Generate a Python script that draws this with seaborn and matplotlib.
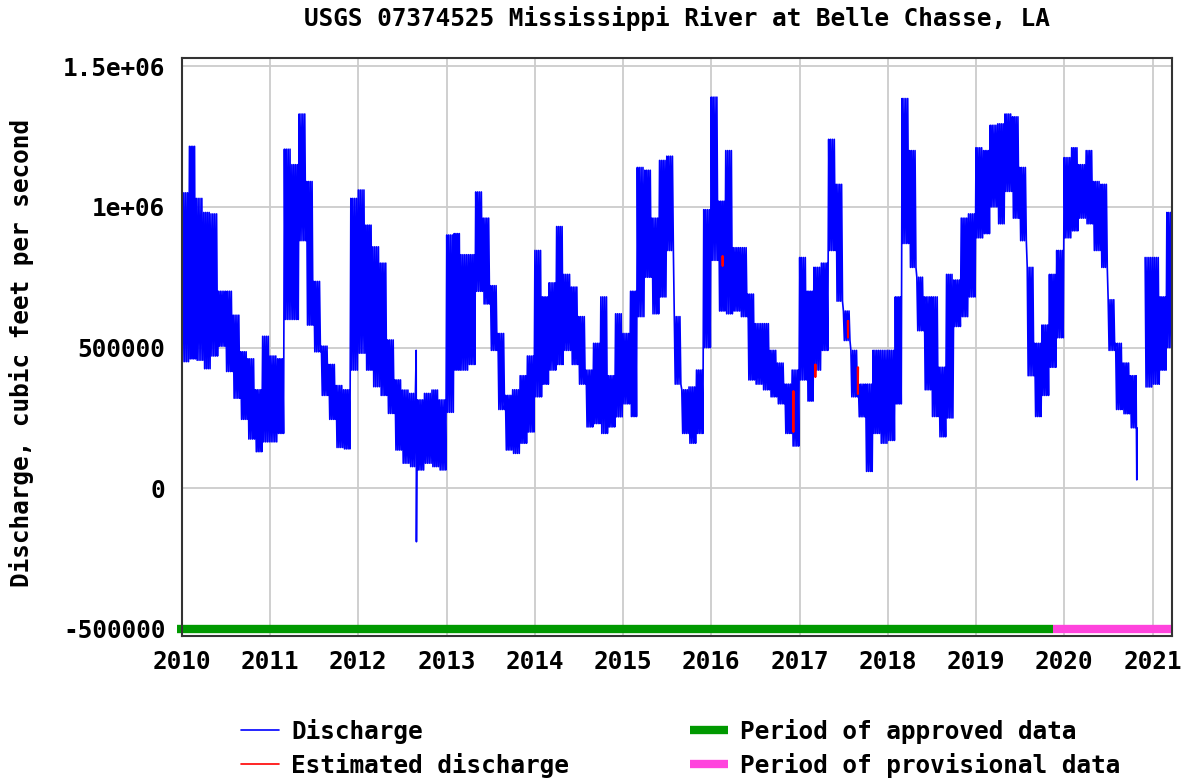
import numpy as np
import pandas as pd
import matplotlib.pyplot as plt
import matplotlib.dates as mdates
from matplotlib.lines import Line2D
import seaborn as sns

sns.set_theme(style='white')
plt.rcParams['font.family'] = ['DejaVu Sans Mono']
plt.rcParams['font.weight'] = 'bold'
plt.rcParams['text.color'] = 'black'
plt.rcParams['axes.labelcolor'] = 'black'

# monthly upper / lower envelope of the discharge trace, thousands of cfs
months = pd.date_range('2010-01-01', '2021-03-01', freq='MS')
q_high = [
    1050, 1215, 1030, 980, 975, 700, 700, 615, 485, 460, 350, 540,      # 2010
    470, 460, 1205, 1150, 1330, 1090, 735, 505, 440, 365, 350, 1030,    # 2011
    1060, 935, 858, 800, 527, 385, 349, 337, 314, 337, 349, 314,        # 2012
    900, 905, 830, 830, 1053, 960, 720, 550, 330, 350, 400, 470,        # 2013
    845, 680, 730, 930, 760, 715, 610, 420, 515, 680, 400, 620,         # 2014
    550, 700, 1140, 1130, 960, 1165, 1180, 610, 350, 360, 420, 990,     # 2015
    1390, 1020, 1200, 855, 855, 690, 585, 585, 490, 445, 370, 420,      # 2016
    820, 700, 785, 800, 1240, 1080, 630, 490, 370, 370, 490, 490,       # 2017
    490, 680, 1385, 1200, 750, 680, 680, 430, 760, 740, 960, 975,       # 2018
    1210, 1200, 1290, 1295, 1330, 1320, 1140, 785, 515, 580, 760, 845,  # 2019
    1175, 1210, 1150, 1200, 1090, 1080, 670, 515, 445, 400, np.nan, 820,  # 2020
    820, 680, 980,                                                      # 2021
]
q_low = [
    450, 460, 455, 425, 470, 505, 415, 320, 245, 175, 130, 165,
    165, 195, 600, 600, 880, 580, 485, 330, 245, 145, 140, 420,
    480, 420, 361, 330, 266, 136, 89, 77, 65, 89, 77, 65,
    270, 420, 420, 440, 700, 655, 490, 280, 136, 124, 160, 200,
    325, 370, 420, 440, 490, 440, 370, 218, 230, 195, 218, 254,
    300, 255, 610, 750, 620, 680, 845, 370, 195, 160, 195, 500,
    810, 630, 620, 630, 610, 385, 370, 350, 325, 300, 195, 150,
    385, 310, 420, 490, 845, 665, 525, 325, 254, 60, 195, 160,
    170, 300, 870, 785, 560, 350, 255, 183, 250, 575, 610, 680,
    890, 905, 1000, 940, 1055, 960, 880, 400, 255, 330, 430, 535,
    890, 915, 960, 940, 845, 785, 490, 280, 265, 215, np.nan, 360,
    370, 420, 500,
]

# single-day spikes
spike_dates = ['2012-08-27', '2012-08-28', '2020-10-27']
spike_q = [490, -190, 30]

# estimated discharge bits (red)
est_dates = ['2016-02-15', '2016-12-04', '2017-03-05', '2017-07-18', '2017-08-28']
est_high = [825, 345, 440, 595, 430]
est_low = [790, 200, 395, 535, 335]

approved_period = ['2009-12-12', '2019-11-15']
provisional_period = ['2019-11-15', '2021-03-25']

ytick_vals = [-500000, 0, 500000, 1000000, 1500000]
ytick_labels = ['-500000', '0', '500000', '1e+06', '1.5e+06']

# tidal trace: swing between the monthly high and low
rows = []
for m, hi, lo in zip(months, q_high, q_low):
    if np.isnan(hi):
        continue
    nd = m.days_in_month
    for k in range(8):
        rows.append((m + pd.Timedelta(hours=24 * nd * k / 8), (hi if k % 2 == 0 else lo) * 1000))
for d, v in zip(spike_dates, spike_q):
    rows.append((pd.Timestamp(d) + pd.Timedelta(hours=12), v * 1000))
df = pd.DataFrame(rows, columns=['date', 'q']).sort_values('date')
gap_start = months[[np.isnan(h) for h in q_high]][0]
df['seg'] = (df['date'] >= gap_start).astype(int)

est_rows = []
for i, (d, hi, lo) in enumerate(zip(est_dates, est_high, est_low)):
    for k in range(5):
        est_rows.append((pd.Timestamp(d) + pd.Timedelta(days=k), (hi if k % 2 == 0 else lo) * 1000, i))
est = pd.DataFrame(est_rows, columns=['date', 'q', 'seg'])

fig = plt.figure(figsize=(11.91, 7.82), dpi=100)
ax = fig.add_axes([0.1528, 0.1867, 0.8312, 0.7391])

sns.lineplot(data=df, x='date', y='q', units='seg', estimator=None, color='#0000ff',
             lw=1.2, ax=ax, legend=False)
sns.lineplot(data=est, x='date', y='q', units='seg', estimator=None, color='#ff0000',
             lw=1.1, ax=ax, legend=False)

ax.plot(pd.to_datetime(approved_period), [ytick_vals[0]] * 2, color='#009900', lw=6,
        solid_capstyle='butt', clip_on=False)
ax.plot(pd.to_datetime(provisional_period), [ytick_vals[0]] * 2, color='#ff44dd', lw=6,
        solid_capstyle='butt', clip_on=False)

ax.set_xlim(pd.Timestamp('2010-01-01'), pd.Timestamp('2021-03-22'))
ax.set_ylim(-525000, 1529000)
ax.xaxis.set_major_locator(mdates.YearLocator())
ax.xaxis.set_major_formatter(mdates.DateFormatter('%Y'))
ax.set_yticks(ytick_vals)
ax.set_yticklabels(ytick_labels)
ax.grid(True, color='#cccccc', lw=1.3)
ax.set_axisbelow(True)
for s in ax.spines.values():
    s.set_color('#333333')
    s.set_linewidth(1.5)
ax.tick_params(axis='both', length=0, labelsize=17.6, colors='black')
ax.tick_params(axis='y', pad=12)
ax.tick_params(axis='x', pad=10)

ax.set_xlabel('')
ax.set_ylabel('Discharge, cubic feet per second', fontsize=17.6, fontweight='bold')
ax.yaxis.set_label_coords(-0.1495, 0.49)
ax.set_title('USGS 07374525 Mississippi River at Belle Chasse, LA', fontsize=17.6,
             fontweight='bold', pad=23)

handles = [
    Line2D([], [], color='#0000ff', lw=1.2),
    Line2D([], [], color='#ff0000', lw=1.2),
    Line2D([], [], color='#009900', lw=6, solid_capstyle='butt'),
    Line2D([], [], color='#ff44dd', lw=6, solid_capstyle='butt'),
]
labels = ['Discharge', 'Estimated discharge', 'Period of approved data', 'Period of provisional data']
fig.legend(handles, labels, ncol=2, loc='upper left', bbox_to_anchor=(241 / 1191, 1 - 719 / 782),
           frameon=False, fontsize=17.6, handlelength=1.55, handletextpad=0.5,
           columnspacing=4.95, labelspacing=0.35, borderpad=0, borderaxespad=0)

fig.savefig('out.png', dpi=100)
